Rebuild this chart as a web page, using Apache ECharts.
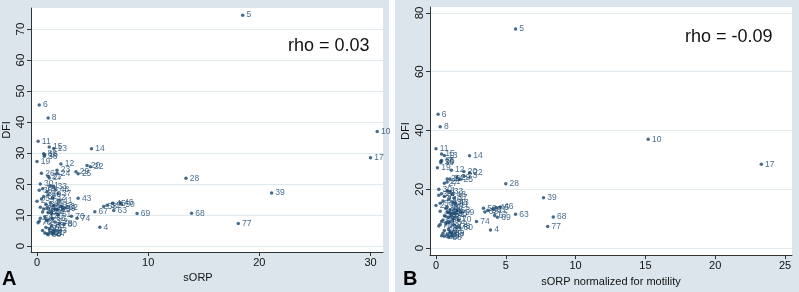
<!DOCTYPE html>
<html>
<head>
<meta charset="utf-8">
<script src="https://cdn.jsdelivr.net/npm/echarts@6/dist/echarts.min.js"></script>
<style>
  html, body { margin: 0; padding: 0; background: #fff; }
  #charts { width: 799px; height: 292px; }
</style>
</head>
<body>
<div id="charts"></div>
<script>
// patient id, sORP, sORP normalized for motility, DFI
const ids = [
  1, 2, 3, 4, 5, 6, 7, 8, 9, 10,
  11, 12, 13, 14, 15, 16, 17, 18, 19, 20,
  21, 22, 23, 24, 25, 26, 27, 28, 29, 30,
  31, 32, 33, 34, 35, 36, 37, 38, 39, 40,
  41, 42, 43, 44, 45, 46, 47, 48, 49, 50,
  51, 52, 53, 54, 55, 56, 57, 58, 59, 60,
  61, 62, 63, 64, 65, 66, 67, 68, 69, 70,
  71, 72, 73, 74, 75, 76, 77, 78, 79, 80,
  81, 82, 83, 84, 85, 86, 87, 88
]
const sorp = [
  1.2, 0.0, 1.6, 5.65, 18.5, 0.2, 0.9, 1.0, 1.3, 30.6,
  0.1, 2.15, 1.5, 4.9, 1.1, 0.7, 30.0, 0.5, 0.0, 4.5,
  1.0, 4.8, 1.8, 1.8, 3.7, 0.4, 1.1, 13.4, 3.5, 0.3,
  0.6, 1.4, 1.5, 0.8, 0.2, 0.65, 1.9, 0.3, 21.1, 1.0,
  2.0, 0.5, 3.7, 1.2, 6.8, 7.5, 0.7, 1.7, 0.9, 7.6,
  6.3, 1.3, 2.2, 0.4, 1.8, 1.5, 0.6, 6.0, 2.3, 1.0,
  1.9, 2.5, 6.9, 0.3, 1.4, 0.8, 5.2, 13.9, 9.0, 3.1,
  1.1, 1.6, 0.9, 3.6, 0.2, 0.1, 18.1, 2.0, 0.5, 2.4,
  1.2, 0.9, 1.5, 0.7, 1.3, 0.6, 1.45, 1.0
]
const sorpMot = [
  0.8, 0.0, 1.0, 3.9, 5.7, 0.15, 0.6, 0.3, 0.9, 15.2,
  0.0, 1.1, 0.6, 2.4, 0.4, 0.35, 23.3, 0.4, 0.1, 2.0,
  0.8, 2.4, 2.0, 1.0, 1.7, 0.8, 0.6, 5.0, 1.5, 0.2,
  0.5, 1.2, 1.0, 0.7, 0.2, 0.35, 1.3, 0.3, 7.7, 0.9,
  1.4, 0.6, 1.4, 0.8, 4.3, 4.6, 0.5, 1.2, 0.8, 3.4,
  4.1, 1.1, 1.5, 0.3, 1.3, 1.0, 0.9, 3.7, 1.8, 0.7,
  1.2, 3.5, 5.7, 0.4, 0.9, 0.6, 4.2, 8.4, 4.4, 1.6,
  1.0, 1.3, 0.7, 2.9, 0.3, 0.2, 8.0, 1.5, 0.5, 1.7,
  0.8, 0.6, 1.1, 0.4, 0.9, 0.4, 1.1, 0.9
]
const dfi = [
  19.5, 14.5, 12.0, 6.1, 74.5, 45.5, 17.5, 41.3, 10.5, 37.0,
  33.8, 26.5, 31.5, 31.4, 32.0, 29.5, 28.5, 18.5, 27.3, 26.0,
  22.5, 25.6, 24.5, 23.5, 23.3, 23.5, 22.0, 21.9, 24.0, 20.0,
  16.0, 15.5, 19.2, 13.5, 18.0, 29.0, 17.0, 12.5, 17.1, 16.5,
  14.8, 11.0, 15.4, 14.0, 13.8, 14.0, 9.5, 18.2, 12.3, 13.5,
  13.2, 11.2, 12.8, 15.2, 11.8, 13.0, 12.0, 12.8, 12.0, 10.8,
  10.0, 12.3, 11.5, 9.0, 8.8, 6.0, 11.1, 10.6, 10.5, 9.6,
  5.5, 7.8, 8.3, 9.0, 8.0, 7.5, 7.3, 7.2, 5.0, 7.0,
  4.5, 4.0, 5.0, 4.2, 6.5, 29.8, 4.1, 3.7
]
const ticksA_x = [0, 10, 20, 30]
const ticksA_y = [0, 10, 20, 30, 40, 50, 60, 70]
const ticksB_x = [0, 5, 10, 15, 20, 25]
const ticksB_y = [0, 20, 40, 60, 80]

const navy = '#1a476f'
const dataA = ids.map((id, i) => [sorp[i], dfi[i], id])
const dataB = ids.map((id, i) => [sorpMot[i], dfi[i], id])

function xAxisOf(gridIndex, min, max, ticks, name, pad) {
  return {
    type: 'value', gridIndex, min, max,
    name, nameLocation: 'middle', nameGap: 17,
    nameTextStyle: { color: '#111', fontSize: 11, fontFamily: 'Liberation Sans', padding: pad },
    axisLine: { show: true, onZero: false, lineStyle: { color: '#333', width: 1 } },
    axisTick: { show: true, length: 4, customValues: ticks, lineStyle: { color: '#333' } },
    axisLabel: { customValues: ticks, margin: 5, color: '#111', fontSize: 11, fontFamily: 'Liberation Sans' },
    splitLine: { show: false }
  }
}
function yAxisOf(gridIndex, min, max, ticks) {
  return {
    type: 'value', gridIndex, min, max,
    name: 'DFI', nameLocation: 'middle', nameGap: 19,
    nameTextStyle: { color: '#111', fontSize: 11, fontFamily: 'Liberation Sans' },
    axisLine: { show: true, onZero: false, lineStyle: { color: '#333', width: 1 } },
    axisTick: { show: true, length: 4, customValues: ticks, lineStyle: { color: '#333' } },
    axisLabel: { customValues: ticks, rotate: 90, margin: 4, color: '#111', fontSize: 11.5, fontFamily: 'Liberation Sans' },
    splitLine: { show: true, lineStyle: { color: '#e0e9ee', width: 1 } }
  }
}
function scatterOf(idx, data) {
  return {
    type: 'scatter', xAxisIndex: idx, yAxisIndex: idx,
    symbol: 'circle', symbolSize: 3.5,
    itemStyle: { color: navy },
    label: {
      show: true, position: 'right', distance: 2,
      formatter: p => p.value[2],
      color: navy, fontSize: 8.5, fontFamily: 'Liberation Sans'
    },
    labelLayout: { hideOverlap: false },
    data
  }
}

const option = {
  backgroundColor: '#dbe5eb',
  animation: false,
  grid: [
    { left: 30, top: 8, width: 353, height: 244, show: true, backgroundColor: '#fff', borderWidth: 0 },
    { left: 430, top: 7, width: 362, height: 249, show: true, backgroundColor: '#fff', borderWidth: 0 }
  ],
  xAxis: [
    xAxisOf(0, -0.54, 31.12, ticksA_x, 'sORP', [0, 18, 0, 0]),
    xAxisOf(1, -0.43, 25.5, ticksB_x, 'sORP normalized for motility', [0, 0, 0, 0])
  ],
  yAxis: [
    yAxisOf(0, -1.9, 76.8, ticksA_y),
    yAxisOf(1, -2.4, 82.0, ticksB_y)
  ],
  series: [scatterOf(0, dataA), scatterOf(1, dataB)],
  graphic: [
    { type: 'rect', left: 389, top: 0, shape: { width: 6, height: 292 }, style: { fill: '#fff' } },
    { type: 'text', left: 288, top: 37, style: { text: 'rho = 0.03', fontSize: 18, fill: '#111', fontFamily: 'Liberation Sans' } },
    { type: 'text', left: 685, top: 28, style: { text: 'rho = -0.09', fontSize: 18, fill: '#111', fontFamily: 'Liberation Sans' } },
    { type: 'text', left: 2, top: 269, style: { text: 'A', fontSize: 20, fontWeight: 'bold', fill: '#000', fontFamily: 'Liberation Sans' } },
    { type: 'text', left: 403, top: 269, style: { text: 'B', fontSize: 20, fontWeight: 'bold', fill: '#000', fontFamily: 'Liberation Sans' } }
  ]
}

const chartIns = echarts.init(document.getElementById('charts'))
chartIns.setOption(option)
</script>
</body>
</html>
